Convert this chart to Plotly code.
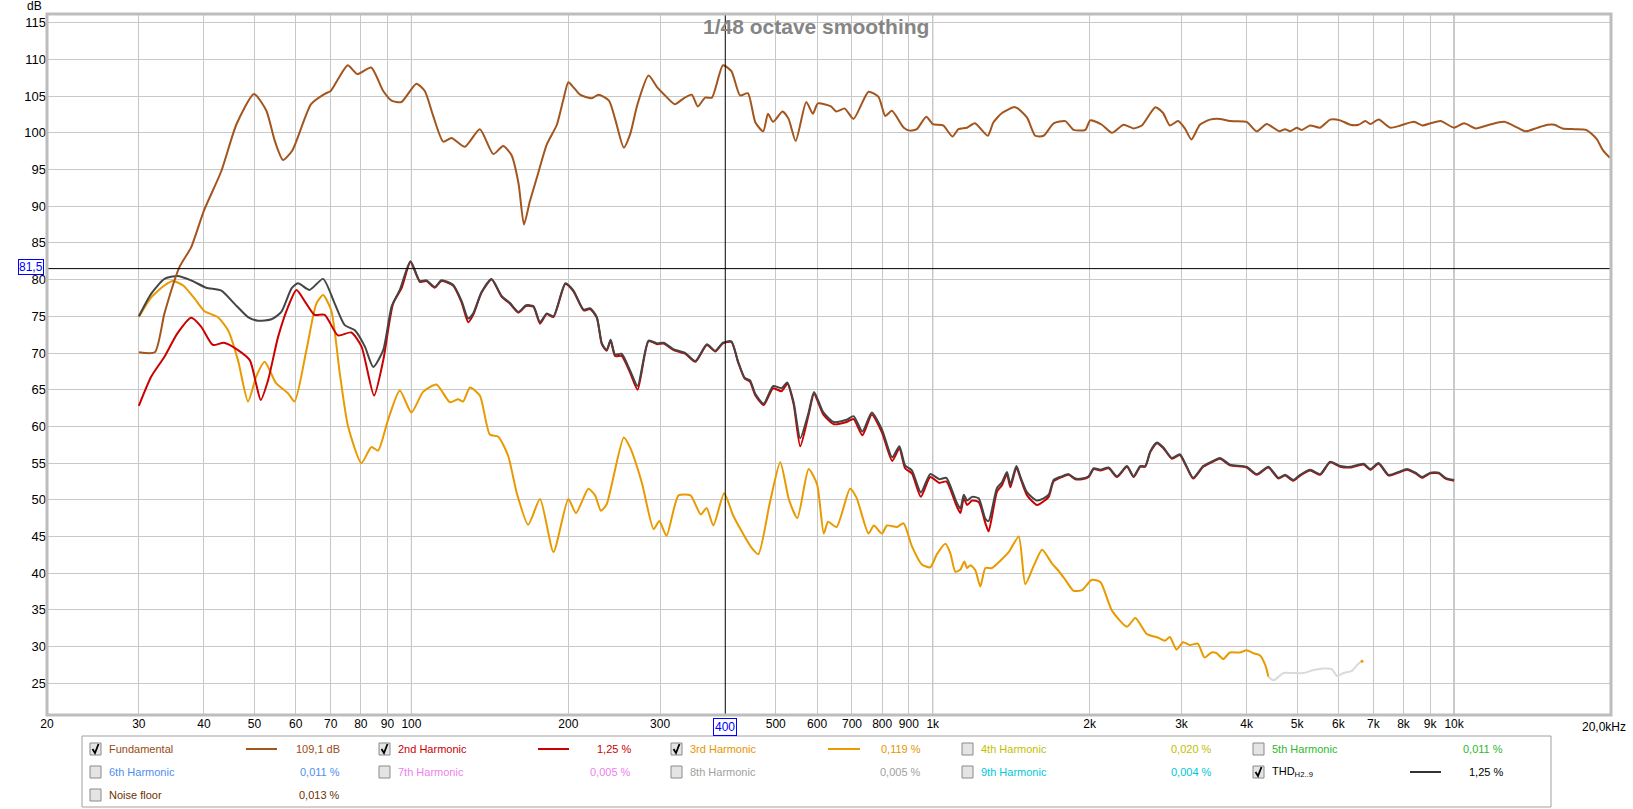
import math
import plotly.graph_objects as go

# ---------------- data ----------------
fund_f = [30, 32.2, 33.6, 35.9, 37.8, 40, 43.2, 46.2, 49.9, 52.7, 54.7, 56.7, 59.1, 64.2, 68.2, 70,
          72.3, 75.5, 78.8, 83.7, 88.3, 91.6, 95.7, 102.2, 106.1, 110.1, 115.1, 119.4, 126.6, 135.3,
          143.6, 150.0, 155.5, 160.5, 164.4, 168.8, 173.9, 181.8, 190.1, 195.6, 200, 204.6, 210.6,
          221.7, 228.5, 239.3, 246.1, 255.5, 263, 271.2, 285, 296.2, 304.6, 320.1, 332.9, 345, 354.3,
          366, 377.1, 396, 411, 427, 442, 457, 473, 483, 494, 515, 529, 546, 572, 589, 602, 638, 653,
          678, 705, 753, 787, 811, 835, 880, 905, 932, 972, 1000, 1047, 1091, 1120, 1163, 1205, 1275,
          1307, 1358, 1440, 1516, 1573, 1632, 1706, 1796, 1864, 1962, 2005, 2111, 2206, 2323, 2427,
          2518, 2673, 2766, 2850, 2956, 3045, 3135, 3254, 3401, 3556, 3716, 4000, 4182, 4372, 4623,
          4740, 4847, 4993, 5104, 5297, 5535, 5786, 6048, 6321, 6558, 6757, 6909, 7167, 7546, 7895,
          8376, 8693, 9018, 9426, 10000, 10453, 11009, 11683, 12480, 13240, 13730, 14460, 15120,
          15580, 16150, 17030, 17920, 18750, 19310, 19900]
fund_db = [70.1, 70.1, 75.4, 81.7, 84.4, 89.4, 94.8, 101.2, 105.3, 103.0, 98.9, 96.3, 97.6, 103.9,
           105.3, 105.7, 107.3, 109.2, 108.0, 108.9, 105.7, 104.4, 104.2, 106.7, 105.7, 102.3, 98.8,
           99.3, 98.1, 100.5, 97.1, 98.2, 97.0, 93.1, 87.5, 90.7, 93.8, 98.4, 101.1, 104.5, 106.9,
           106.2, 105.2, 104.7, 105.2, 104.4, 101.8, 98.0, 99.9, 103.8, 107.8, 106.2, 105.3, 103.9,
           104.7, 105.2, 103.6, 104.8, 104.8, 109.2, 108.4, 105.1, 105.4, 101.4, 100.2, 102.6, 101.5,
           102.9, 101.9, 98.9, 104.2, 102.6, 104.0, 103.6, 102.9, 103.3, 101.9, 105.6, 104.9, 102.3,
           103.0, 100.7, 100.3, 100.5, 102.2, 101.2, 101.0, 99.5, 100.5, 100.7, 101.3, 99.6, 101.4,
           102.7, 103.5, 102.1, 99.6, 99.6, 101.3, 101.6, 100.4, 100.4, 101.7, 101.1, 100.0, 101.1,
           100.6, 101.0, 103.5, 102.7, 101.0, 101.6, 100.6, 99.1, 101.1, 101.8, 101.9, 101.6, 101.5,
           100.2, 101.2, 100.2, 100.5, 100.2, 100.7, 100.4, 101.0, 100.7, 101.8, 101.7, 101.1, 101.1,
           101.6, 101.2, 101.8, 100.7, 101.0, 101.5, 101.0, 101.3, 101.6, 100.7, 101.3, 100.6, 101.1,
           101.5, 100.7, 100.2, 100.7, 101.1, 101.1, 100.6, 100.5, 100.4, 99.2, 97.6, 96.6]

thd_f = [30, 31.7, 33.6, 35.6, 37.8, 40.4, 43.2, 45.8, 48.6, 50.8, 53.9, 56.3, 58.9, 60.6, 63.8,
         67.7, 71.3, 74.5, 77.9, 81.4, 84.5, 88.3, 91.6, 95.0, 99.6, 103.8, 106.9, 110.9, 114.2,
         120.2, 124.8, 128.5, 131.4, 136.3, 142.5, 148.9, 154.6, 160.5, 165.9, 171.4, 176.5, 181.8,
         187.3, 197.4, 204.6, 214.0, 220.1, 226.8, 231.9, 236.9, 241.1, 245.8, 253.0, 262.8, 271.6,
         285.0, 296.2, 304.6, 318.5, 335.4, 350.5, 368.8, 382.7, 396, 411, 423, 436, 446, 457, 474,
         494, 513, 526, 541, 557, 578, 592, 617, 646, 684, 705, 733, 764, 799, 836, 863, 885, 912,
         949, 989, 1030, 1062, 1109, 1130, 1147, 1164, 1190, 1225, 1262, 1280, 1328, 1358, 1388,
         1409, 1447, 1472, 1517, 1585, 1632, 1669, 1706, 1769, 1823, 1877, 1934, 1991, 2036, 2097,
         2175, 2256, 2358, 2429, 2500, 2556, 2614, 2692, 2772, 2876, 2978, 3067, 3159, 3302, 3426,
         3556, 3716, 4000, 4182, 4404, 4603, 4740, 4918, 5066, 5297, 5535, 5786, 6048, 6321, 6705,
         6909, 7167, 7489, 7830, 8124, 8431, 8681, 9008, 9349, 9627, 10000]
thd_db = [75.0, 78.1, 80.1, 80.5, 79.9, 78.9, 78.5, 76.7, 74.9, 74.4, 74.6, 75.6, 78.8, 79.5, 78.6,
          80.1, 76.7, 73.8, 73.1, 70.9, 68.1, 70.4, 76.3, 78.6, 82.5, 79.8, 79.9, 79.0, 79.9, 79.3,
          77.1, 74.7, 75.4, 78.3, 80.1, 77.8, 76.8, 75.6, 76.5, 76.4, 74.2, 75.4, 75.0, 79.5, 78.5,
          75.9, 76.1, 74.9, 71.3, 70.4, 71.8, 69.8, 69.9, 67.6, 65.5, 71.7, 71.3, 71.4, 70.5, 70.0,
          68.9, 71.2, 70.3, 71.4, 71.6, 68.9, 66.6, 66.3, 64.4, 63.1, 65.5, 65.2, 66.0, 63.3, 58.4,
          61.9, 64.7, 61.9, 60.6, 60.9, 61.4, 59.3, 61.9, 59.6, 55.8, 57.3, 54.7, 54.0, 51.0, 53.5,
          52.8, 53.0, 49.8, 48.8, 50.7, 49.9, 50.4, 50.2, 47.4, 47.1, 51.6, 52.4, 53.8, 52.1, 54.6,
          53.2, 51.0, 49.9, 50.2, 50.7, 52.7, 53.2, 53.5, 52.9, 52.9, 53.2, 54.3, 54.1, 54.4, 53.2,
          54.6, 53.2, 54.6, 54.6, 56.6, 57.8, 57.1, 55.7, 56.2, 54.6, 53.0, 54.6, 55.2, 55.7, 54.8,
          54.5, 53.5, 54.5, 53.0, 53.4, 52.7, 53.4, 54.1, 53.5, 55.2, 54.6, 54.5, 54.9, 54.2, 55.0,
          53.4, 53.8, 54.2, 53.7, 53.1, 53.7, 53.7, 53.0, 52.7]

h2_f = [30, 31.7, 33.6, 35.6, 37.8, 39.5, 41.6, 43.7, 46.5, 49.0, 50.4, 51.4, 53.1, 55.5, 58.0,
        60.2, 62.9, 65.2, 68.2, 72.3, 76.7, 80.2, 84.8, 88.3, 92.2, 95.7, 99.6, 103.8, 106.9, 110.9,
        114.2, 120.2, 124.8, 128.5, 131.4, 136.3, 142.5, 148.9, 154.6, 160.5, 165.9, 171.4, 176.5,
        181.8, 187.3, 197.4, 204.6, 214.0, 220.1, 226.8, 231.9, 236.9, 241.1, 245.8, 253.0, 262.8,
        271.6, 285.0, 296.2, 304.6, 318.5, 335.4, 350.5, 368.8, 382.7, 396, 411, 423, 436, 446, 457,
        474, 494, 513, 526, 541, 557, 578, 592, 617, 646, 684, 705, 733, 764, 799, 836, 863, 885,
        912, 949, 989, 1030, 1062, 1109, 1130, 1147, 1164, 1190, 1225, 1262, 1280, 1328, 1358, 1388,
        1409, 1447, 1472, 1517, 1585, 1632, 1669, 1706, 1769, 1823, 1877, 1934, 1991, 2036, 2097,
        2175, 2256, 2358, 2429, 2500, 2556, 2614, 2692, 2772, 2876, 2978, 3067, 3159, 3302, 3426,
        3556, 3716, 4000, 4182, 4404, 4603, 4740, 4918, 5066, 5297, 5535, 5786, 6048, 6321, 6705,
        6909, 7167, 7489, 7830, 8124, 8431, 8681, 9008, 9349, 9627, 10000]
h2_db = [62.8, 66.8, 69.5, 72.7, 74.8, 73.6, 71.1, 71.4, 70.4, 69.0, 65.7, 63.6, 66.3, 72.2, 76.3,
         78.6, 76.7, 75.2, 75.2, 72.4, 72.8, 70.9, 64.2, 69.0, 76.7, 78.8, 82.4, 79.7, 79.8, 78.9,
         79.8, 79.2, 76.9, 74.2, 75.2, 78.2, 80.0, 77.7, 76.7, 75.5, 76.4, 76.3, 74.0, 75.3, 74.9,
         79.4, 78.4, 75.8, 76.0, 74.8, 71.2, 70.3, 71.7, 69.6, 69.6, 67.3, 65.0, 71.6, 71.2, 71.3,
         70.4, 69.9, 68.8, 71.1, 70.2, 71.3, 71.5, 68.8, 66.5, 66.1, 64.2, 62.9, 65.2, 64.8, 65.8,
         63.0, 57.3, 61.6, 64.4, 61.6, 60.3, 60.6, 61.0, 58.8, 61.6, 59.2, 55.3, 57.0, 54.3, 53.6,
         50.4, 53.1, 52.3, 52.5, 49.3, 48.2, 50.2, 49.3, 49.9, 49.7, 46.8, 45.7, 51.1, 52.0, 53.5,
         51.7, 54.4, 53.0, 50.6, 49.3, 49.8, 50.4, 52.5, 53.1, 53.4, 52.8, 52.8, 53.1, 54.2, 54.0,
         54.3, 53.1, 54.5, 53.1, 54.5, 54.5, 56.5, 57.7, 57.0, 55.6, 56.1, 54.5, 52.9, 54.5, 55.1,
         55.6, 54.7, 54.4, 53.4, 54.4, 52.9, 53.3, 52.6, 53.3, 54.0, 53.4, 55.1, 54.5, 54.4, 54.8,
         54.1, 54.9, 53.3, 53.7, 54.1, 53.6, 53.0, 53.6, 53.6, 52.9, 52.6]

h3_f = [30, 31.7, 33.6, 34.9, 36.5, 38.4, 40.1, 42.5, 44.5, 46.5, 48.6, 50.4, 52.3, 55.0, 58.0,
        59.7, 62.9, 65.7, 67.7, 70.2, 72.9, 75.6, 80.2, 83.8, 86.3, 90.2, 95.0, 100, 105.3, 111.7,
        118.5, 122.9, 125.7, 129.5, 135.3, 141.4, 146.8, 153.3, 159.3, 167.5, 176.5, 187.3, 200.0,
        206.9, 218.5, 225.1, 230.9, 236.9, 255.5, 262.8, 276.8, 291.5, 299.0, 308.6, 325.4, 343.0,
        359.0, 368.3, 379.4, 398, 414, 431, 449, 463, 487, 510, 530, 550, 578, 600, 618, 630, 654,
        694, 714, 753, 771, 799, 817, 854, 879, 912, 953, 989, 1019, 1058, 1081, 1105, 1130, 1150,
        1164, 1181, 1207, 1234, 1262, 1299, 1348, 1400, 1462, 1505, 1562, 1621, 1694, 1744, 1796,
        1863, 1934, 2020, 2097, 2207, 2358, 2447, 2576, 2708, 2787, 2850, 2934, 3022, 3112, 3224,
        3323, 3426, 3503, 3608, 3716, 3884, 4000, 4122, 4245, 4343, 4404]
h3_db = [74.9, 77.6, 79.2, 79.8, 79.2, 77.4, 75.7, 74.9, 73.1, 69.0, 63.4, 66.8, 68.8, 65.9, 64.5,
         63.4, 70.4, 76.7, 77.9, 75.8, 67.2, 60.0, 55.0, 57.2, 56.7, 60.9, 64.9, 61.9, 64.7, 65.7,
         63.3, 63.7, 63.4, 65.3, 64.2, 58.9, 58.6, 56.0, 50.9, 46.6, 50.1, 42.9, 50.1, 48.2, 51.5,
         50.6, 48.5, 49.4, 58.5, 57.1, 52.3, 46.0, 47.1, 45.1, 50.6, 50.6, 48.0, 48.9, 46.5, 50.9,
         47.9, 45.6, 43.5, 42.6, 49.6, 55.1, 50.0, 47.5, 54.2, 52.1, 45.4, 47.0, 46.3, 51.5, 50.3,
         45.4, 46.5, 45.4, 46.5, 46.3, 46.8, 43.7, 41.2, 40.8, 42.6, 44.0, 42.7, 40.2, 40.5, 41.6,
         40.7, 41.1, 40.4, 38.2, 40.7, 40.7, 41.7, 42.9, 45.0, 38.5, 41.0, 43.2, 41.3, 40.3, 39.1,
         37.6, 37.7, 39.1, 38.8, 34.9, 32.7, 33.9, 31.7, 31.2, 30.8, 31.3, 29.6, 30.6, 30.2, 30.4,
         28.5, 29.2, 29.1, 28.3, 29.2, 29.2, 29.5, 29.1, 28.8, 27.5, 25.9]

# part of the 3rd harmonic drawn pale (below noise)
h3_pale_f = [4404, 4503, 4711, 4918, 5140, 5376, 5622, 5832, 5965, 6141, 6372, 6519, 6618]
h3_pale_db = [25.9, 25.4, 26.4, 26.4, 26.4, 26.8, 27.0, 26.9, 26.0, 26.4, 26.7, 27.5, 27.9]
h3_end_f = [6660]
h3_end_db = [28.0]

# 400 Hz (cursor) and 20 kHz (frame edge) are labelled separately
x_ticks = [20, 30, 40, 50, 60, 70, 80, 90, 100, 200, 300, 500, 600, 700, 800, 900,
           1000, 2000, 3000, 4000, 5000, 6000, 7000, 8000, 9000, 10000]
x_labels = ['20', '30', '40', '50', '60', '70', '80', '90', '100', '200', '300', '500', '600',
            '700', '800', '900', '1k', '2k', '3k', '4k', '5k', '6k', '7k', '8k', '9k', '10k']
y_ticks = [25, 30, 35, 40, 45, 50, 55, 60, 65, 70, 75, 80, 85, 90, 95, 100, 105, 110, 115]
decades = [100, 1000, 10000]
cursor_f = 400
cursor_db = 81.5

# legend entries: (row, col, label, colour, checked, value, has line sample)
legend_items = [
    (0, 0, 'Fundamental', '#9A4A12', True, '109,1 dB', True),
    (0, 1, '2nd Harmonic', '#CC0000', True, '1,25 %', True),
    (0, 2, '3rd Harmonic', '#E69500', True, '0,119 %', True),
    (0, 3, '4th Harmonic', '#C4BE00', False, '0,020 %', False),
    (0, 4, '5th Harmonic', '#2DB82D', False, '0,011 %', False),
    (1, 0, '6th Harmonic', '#4F8EF0', False, '0,011 %', False),
    (1, 1, '7th Harmonic', '#EE80EE', False, '0,005 %', False),
    (1, 2, '8th Harmonic', '#A0A0A0', False, '0,005 %', False),
    (1, 3, '9th Harmonic', '#00C8D8', False, '0,004 %', False),
    (1, 4, 'THD<sub>H2..9</sub>', '#000000', True, '1,25 %', True),
    (2, 0, 'Noise floor', '#6B3200', False, '0,013 %', False),
]

# ---------------- layout helpers (pixels -> paper) ----------------
W, H = 1633, 809
L, R, T, B = 47, 22, 14, 94
PW, PH = W - L - R, H - T - B


def px(x):
    return (x - L) / PW


def py(y):
    return (H - B - y) / PH


FONT = 'Liberation Sans, Arial, sans-serif'
FUND_C = '#A3551E'
H2_C = '#CC0000'
H3_C = '#E89A00'
THD_C = '#454545'

fig = go.Figure()

# Traces
fig.add_trace(go.Scatter(x=h3_f, y=h3_db, mode='lines', line=dict(color=H3_C, width=2, shape='spline', smoothing=0.6)))
fig.add_trace(go.Scatter(x=h3_pale_f, y=h3_pale_db, mode='lines', line=dict(color='#DADADA', width=2, shape='spline', smoothing=0.6)))
fig.add_trace(go.Scatter(x=h3_end_f, y=h3_end_db, mode='markers', marker=dict(color=H3_C, size=3)))
fig.add_trace(go.Scatter(x=h2_f, y=h2_db, mode='lines', line=dict(color=H2_C, width=2, shape='spline', smoothing=0.6)))
fig.add_trace(go.Scatter(x=thd_f, y=thd_db, mode='lines', line=dict(color=THD_C, width=2, shape='spline', smoothing=0.6)))
fig.add_trace(go.Scatter(x=fund_f, y=fund_db, mode='lines', line=dict(color=FUND_C, width=2, shape='spline', smoothing=0.6)))
fig.update_traces(showlegend=False, hoverinfo='skip')

# Decade grid lines (darker)
for d in decades:
    fig.add_shape(type='line', xref='x', yref='paper', x0=d, x1=d, y0=0, y1=1,
                  line=dict(color='#8C8C8C', width=1), layer='below')

# Cursor cross
fig.add_shape(type='line', xref='x', yref='paper', x0=cursor_f, x1=cursor_f, y0=0, y1=1,
              line=dict(color='#000000', width=1))
fig.add_shape(type='line', xref='paper', yref='y', x0=0, x1=1, y0=cursor_db, y1=cursor_db,
              line=dict(color='#000000', width=1))

# Plot frame
fig.add_shape(type='rect', xref='paper', yref='paper', x0=0, x1=1, y0=0, y1=1,
              line=dict(color='#BDBDBD', width=3))


def note(x, y, text, size=11, color='#000000', xanchor='center', xref='paper', yref='paper', **kw):
    return dict(x=x, y=y, xref=xref, yref=yref, showarrow=False, text=text,
                xanchor=xanchor, yanchor='middle',
                font=dict(family=FONT, size=size, color=color), **kw)


annotations = []
# Title
annotations.append(note(px(816), py(26), '<b>1/48 octave smoothing</b>', size=21, color='#858585'))
# dB unit
annotations.append(note(px(34), py(6), 'dB', size=12))
# cursor readouts
annotations.append(note(px(31), py(267), '81,5', size=12, color='#0000FF',
                        bordercolor='#0000FF', borderwidth=1, borderpad=0, bgcolor='#FFFFFF'))
annotations.append(note(math.log10(cursor_f), py(727), '400', size=12, color='#0000FF', xref='x',
                        bordercolor='#0000FF', borderwidth=1, borderpad=1, bgcolor='#FFFFFF'))
annotations.append(note(px(1604), py(727), '20,0kHz', size=12))

# Legend panel
shapes = []
shapes.append(dict(type='rect', xref='paper', yref='paper', x0=px(82), x1=px(1551), y0=py(736), y1=py(807),
                   line=dict(color='#A0A0A0', width=1), fillcolor='#FFFFFF'))
col_box = [90, 379, 671, 962, 1253]
col_val = [342, 633, 923, 1214, 1505]
col_line = [(246, 277), (538, 569), (828, 860), None, (1410, 1441)]
row_y = [749, 772, 795]
for row, col, label, colour, checked, value, has_line in legend_items:
    yy = row_y[row]
    bx = col_box[col]
    shapes.append(dict(type='rect', xref='paper', yref='paper', x0=px(bx), x1=px(bx + 11),
                       y0=py(yy + 6), y1=py(yy - 6), line=dict(color='#8A8A8A', width=1),
                       fillcolor='#E4E4E4'))
    if checked:
        tick = 'M {:.5f},{:.5f} L {:.5f},{:.5f} L {:.5f},{:.5f}'.format(
            px(bx + 2.5), py(yy), px(bx + 5), py(yy + 4), px(bx + 8.5), py(yy - 5))
        shapes.append(dict(type='path', xref='paper', yref='paper', path=tick,
                           line=dict(color='#000000', width=1.8)))
    annotations.append(note(px(bx + 17), py(yy), label, color=colour, xanchor='left'))
    annotations.append(note(px(col_val[col]), py(yy), value, color=colour, xanchor='right'))
    if has_line:
        lx0, lx1 = col_line[col]
        lc = {'Fundamental': FUND_C, '2nd Harmonic': H2_C, '3rd Harmonic': H3_C}.get(label, '#333333')
        shapes.append(dict(type='line', xref='paper', yref='paper', x0=px(lx0), x1=px(lx1),
                           y0=py(yy), y1=py(yy), line=dict(color=lc, width=2)))

for s in shapes:
    fig.add_shape(**s)

fig.update_layout(
    width=W, height=H,
    margin=dict(l=L, r=R, t=T, b=B),
    paper_bgcolor='#FFFFFF',
    plot_bgcolor='#FFFFFF',
    showlegend=False,
    annotations=annotations,
    font=dict(family=FONT, size=12, color='#000000'),
)
fig.update_xaxes(type='log', range=[math.log10(20), math.log10(20000)],
                 tickvals=x_ticks, ticktext=x_labels, showgrid=True, gridcolor='#C8C8C8',
                 gridwidth=1, zeroline=False, showline=False, ticks='',
                 tickfont=dict(family=FONT, size=12, color='#000000'))
fig.update_yaxes(range=[20.68, 116.19], tickvals=y_ticks, showgrid=True, gridcolor='#C8C8C8',
                 gridwidth=1, zeroline=False, showline=False, ticks='',
                 tickfont=dict(family=FONT, size=13, color='#000000'))

fig.write_html("out.html", config={'displayModeBar': False},
               post_script="document.body.style.margin='0px';document.body.style.overflow='hidden';")
